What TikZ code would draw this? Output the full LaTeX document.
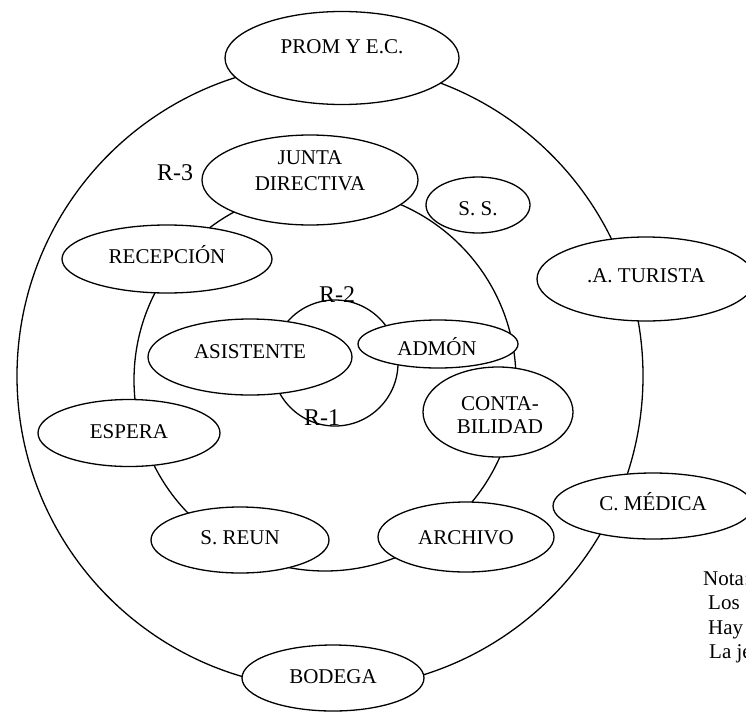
\documentclass[tikz,border=0pt]{standalone}
\usepackage{fontspec}
\setmainfont{Liberation Serif}
\usetikzlibrary{shapes.geometric}
\begin{document}
\begin{tikzpicture}[x=1pt,y=-1pt,
  room/.style={ellipse, draw, fill=white, line width=1.3pt, inner sep=0pt},
  ring/.style={draw, line width=1.3pt},
  lbl/.style={font=\fontsize{21}{25}\selectfont, anchor=base, inner sep=0pt},
  rlbl/.style={font=\fontsize{24}{28}\selectfont, anchor=base, inner sep=0pt},
  note/.style={font=\fontsize{21}{25}\selectfont, anchor=base west, inner sep=0pt}]
\useasboundingbox (0,0) rectangle (746,712);
% rings
\path[ring] (330,376) circle[radius=313pt];
\path[ring] (325,380) circle[radius=191pt];
\path[ring] (335,363) circle[radius=63pt];
% ellipses
\node[room, minimum width=234pt, minimum height=93pt] (prom) at (342,58) {};
\node[room, minimum width=216pt, minimum height=90pt] (junta) at (310,180) {};
\node[room, minimum width=104pt, minimum height=56pt] (ss) at (478,205) {};
\node[room, minimum width=210pt, minimum height=68pt] (recep) at (167,259) {};
\node[room, minimum width=218pt, minimum height=84pt] (turista) at (646,279) {};
\node[room, minimum width=204pt, minimum height=76pt] (asist) at (250,357) {};
\node[room, minimum width=160pt, minimum height=48pt] (admon) at (438,344) {};
\node[room, minimum width=150pt, minimum height=90pt] (conta) at (498,412) {};
\node[room, minimum width=182pt, minimum height=67pt] (espera) at (129,433) {};
\node[room, minimum width=178pt, minimum height=66pt] (sreun) at (240,540) {};
\node[room, minimum width=176pt, minimum height=70pt] (archivo) at (466,537) {};
\node[room, minimum width=200pt, minimum height=66pt] (medica) at (653,506) {};
\node[room, minimum width=182pt, minimum height=66pt] (bodega) at (333,678) {};
% texts
\node[lbl] (tprom) at (342,53) {PROM Y E.C.};
\node[lbl] (tjunta1) at (310,164) {JUNTA};
\node[lbl] (tjunta2) at (310,190) {DIRECTIVA};
\node[lbl] (tss) at (478,215) {S. S.};
\node[lbl] (trecep) at (167,263) {RECEPCIÓN};
\node[lbl] (tturista) at (646,282) {.A. TURISTA};
\node[lbl] (tasist) at (250,358) {ASISTENTE};
\node[lbl] (tadmon) at (437,355) {ADMÓN};
\node[lbl] (tconta1) at (500,410) {CONTA-};
\node[lbl] (tconta2) at (500,433) {BILIDAD};
\node[lbl] (tespera) at (129,438) {ESPERA};
\node[lbl] (tsreun) at (240,544) {S. REUN};
\node[lbl] (tarchivo) at (466,544) {ARCHIVO};
\node[lbl] (tmedica) at (653,510) {C. MÉDICA};
\node[lbl] (tbodega) at (333,683) {BODEGA};
% ring labels
\node[rlbl] (r3) at (175,180) {R-3};
\node[rlbl] (r2) at (337,302) {R-2};
\node[rlbl] (r1) at (322,425) {R-1};
% note
\node[note] (n1) at (703,585) {Nota:};
\node[note] (n2) at (708,609) {Los};
\node[note] (n3) at (708,634) {Hay};
\node[note] (n4) at (709,658) {La je};
\end{tikzpicture}
\end{document}
